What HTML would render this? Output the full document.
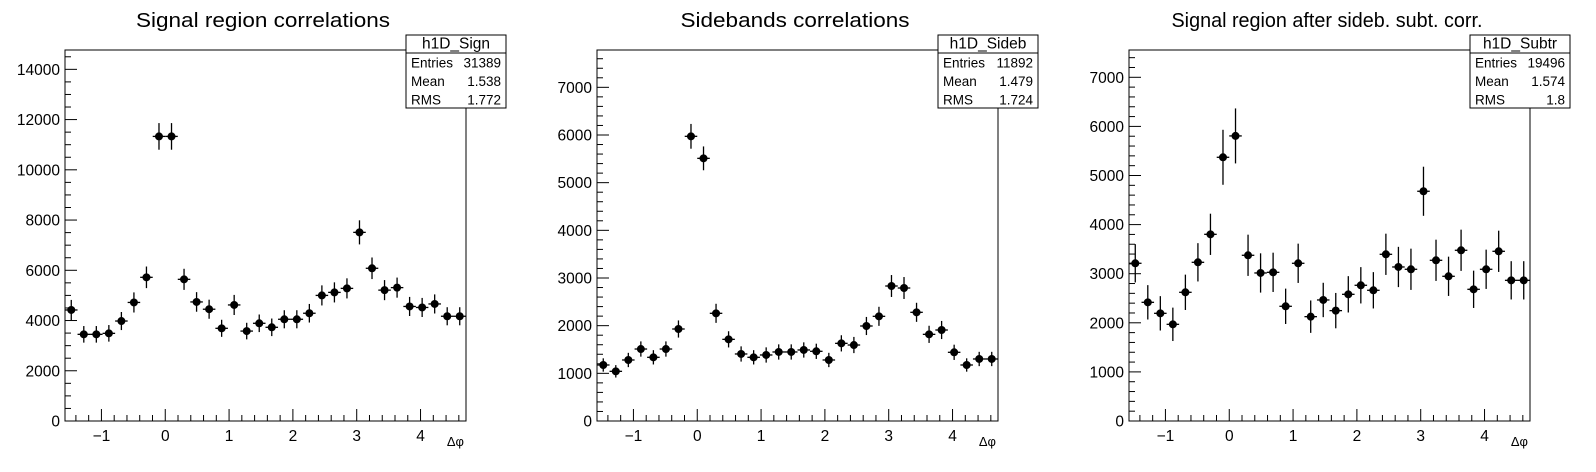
<!DOCTYPE html>
<html><head><meta charset="utf-8"><style>
html,body{margin:0;padding:0;background:#fff;}
svg{display:block;font-family:"Liberation Sans",sans-serif;}
</style></head><body>
<svg id="c" width="1596" height="472" xmlns="http://www.w3.org/2000/svg"></svg>
<script>
const titles = ["Signal region correlations","Sidebands correlations","Signal region after sideb. subt. corr."];
const titleWidths = [254, 229, 311];
const histNames = ["h1D_Sign","h1D_Sideb","h1D_Subtr"];
const entries = ["31389","11892","19496"];
const means = ["1.538","1.479","1.574"];
const rmss = ["1.772","1.724","1.8"];
const yMaxes = [14770, 7783, 7556];
const yMajor = [2000, 1000, 1000];
const yMinorDiv = [4, 5, 5];
const xTickLabels = ["\u22121","0","1","2","3","4"];
const sigVals = [4420,3450,3450,3490,3980,4720,5720,11330,11330,5640,4740,4450,3690,4620,3580,3890,3730,4050,4050,4290,5000,5120,5280,7510,6080,5210,5310,4560,4520,4660,4170,4170];
const sigErr = [400,330,330,330,360,400,430,530,530,420,390,380,340,400,330,350,350,360,360,370,400,400,400,480,430,400,400,380,380,380,360,360];
const sbVals = [1175,1042,1280,1510,1336,1510,1930,5972,5510,2259,1713,1406,1336,1385,1448,1448,1490,1462,1280,1629,1594,1993,2196,2832,2790,2280,1818,1909,1441,1175,1301,1301];
const sbErr = [140,130,150,160,150,160,180,260,250,200,170,160,150,160,160,160,160,160,150,170,170,190,200,230,230,200,180,190,160,140,150,150];
const subVals = [3212,2417,2193,1969,2621,3232,3802,5371,5806,3375,3015,3028,2336,3212,2125,2465,2248,2580,2764,2662,3395,3137,3090,4679,3273,2947,3477,2682,3090,3456,2865,2865];
const subErr = [390,350,350,340,360,390,420,560,560,420,400,400,360,400,330,350,360,370,370,370,420,410,420,500,420,400,420,380,400,420,390,390];
const series = [sigVals, sbVals, subVals];
const errors = [sigErr, sbErr, subErr];

const NS = "http://www.w3.org/2000/svg";
const svg = document.getElementById('c');
function mk(tag, attrs, parent){
  const e = document.createElementNS(NS, tag);
  for (const k in attrs) e.setAttribute(k, attrs[k]);
  (parent||svg).appendChild(e);
  return e;
}
const XMIN = -Math.PI/2, XMAX = 3*Math.PI/2, NB = 32;
for (let p = 0; p < 3; p++){
  const off = p*532;
  const L = 65+off, R = 466+off, T = 50, B = 421;
  const g = mk('g', {});
  
  
  const xs = v => L + (v - XMIN)/(XMAX - XMIN)*(R - L);
  const ys = v => B - v/yMaxes[p]*(B - T);
  const t = mk('text', {x: 263+off-titleWidths[p]/2, y: 27, 'font-size':20, textLength: titleWidths[p], lengthAdjust:'spacingAndGlyphs'}, g);
  t.textContent = titles[p];
  
  
  const fr = mk('rect', {x:L, y:T, width:R-L, height:B-T, fill:'none', stroke:'#000', 'stroke-width':1}, g);
  
  
  for (let k = -7; k <= 23; k++){
    const v = k*0.2; if (v < XMIN || v > XMAX) continue;
    const major = (k % 5 === 0);
    const x = xs(v);
    mk('line', {x1:x, x2:x, y1:B, y2:B-(major?12:6), stroke:'#000'}, g);
  }
  for (let i = 0; i < xTickLabels.length; i++){
    const tl = mk('text', {x: xs(i-1), y: 441, 'text-anchor':'middle', 'font-size':15.5}, g);
    tl.textContent = xTickLabels[i];
    
    
  }
  const xt = mk('text', {x: R-2, y: 446, 'text-anchor':'end', 'font-size':13}, g);
  xt.textContent = "\u0394\u03c6";
  
  
  const minorStep = yMajor[p]/yMinorDiv[p];
  for (let j = 0; j*minorStep <= yMaxes[p]; j++){
    const v = j*minorStep, y = ys(v);
    const major = (j % yMinorDiv[p] === 0);
    mk('line', {x1:L, x2:L+(major?12:6), y1:y, y2:y, stroke:'#000'}, g);
    if (major){
      const yl = mk('text', {x: L-5, y: y+5.5, 'text-anchor':'end', 'font-size':15.5}, g);
      yl.textContent = String(v);
      
      
    }
  }
  const bw = (XMAX - XMIN)/NB;
  const vals = series[p], errs = errors[p];
  for (let i = 0; i < vals.length; i++){
    const xc = XMIN + (i+0.5)*bw;
    const pg = mk('g', {}, g);
    
    
    mk('line', {x1: xs(xc-bw/2), x2: Math.min(xs(xc+bw/2), R), y1: ys(vals[i]), y2: ys(vals[i]), stroke:'#000', 'stroke-width':1.3}, pg);
    mk('line', {x1: xs(xc), x2: xs(xc), y1: ys(vals[i]-errs[i]), y2: ys(vals[i]+errs[i]), stroke:'#000', 'stroke-width':1.3}, pg);
    mk('circle', {cx: xs(xc), cy: ys(vals[i]), r: 4, fill:'#000'}, pg);
  }
  const bx = 406+off, by = 35, bwid = 100, bh = 73;
  const sb = mk('g', {}, g);
  
  
  mk('rect', {x:bx, y:by, width:bwid, height:bh, fill:'#fff', stroke:'#000'}, sb);
  mk('line', {x1:bx, x2:bx+bwid, y1:53, y2:53, stroke:'#000'}, sb);
  const hn = mk('text', {x: bx+bwid/2, y: 48.5, 'text-anchor':'middle', 'font-size':15.5}, sb);
  hn.textContent = histNames[p];
  const rows = [["Entries", entries[p]],["Mean", means[p]],["RMS", rmss[p]]];
  rows.forEach((r, i) => {
    const yy = 67.5 + i*18.5;
    const a = mk('text', {x: bx+5, y: yy, 'font-size':13.5}, sb); a.textContent = r[0];
    const b = mk('text', {x: bx+bwid-5, y: yy, 'text-anchor':'end', 'font-size':13.5}, sb); b.textContent = r[1];
  });
}
</script>
</body></html>
